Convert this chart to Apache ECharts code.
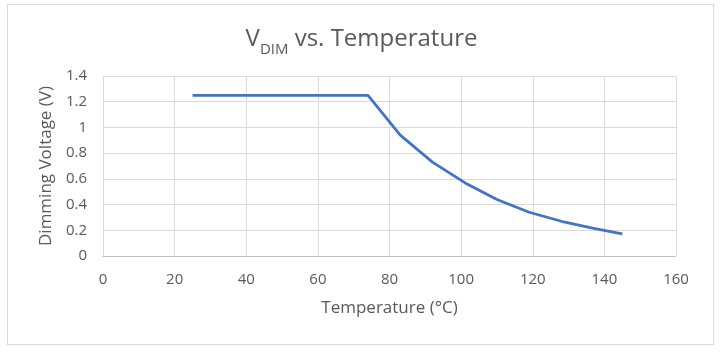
<!DOCTYPE html>
<html>
<head>
<meta charset="utf-8">
<script src="https://cdn.jsdelivr.net/npm/echarts@6/dist/echarts.min.js"></script>
<style>
html,body{margin:0;padding:0;background:#fff;}
#frame{position:absolute;left:7px;top:4px;width:707px;height:341px;border:1px solid #d9d9d9;box-sizing:border-box;}
#chart{width:723px;height:355px;}
</style>
</head>
<body>
<div id="frame"></div>
<div id="chart"></div>
<script>
const temperatures = [25, 74, 83, 92, 101, 110, 119, 128, 137, 145];
const dimVoltage = [1.25, 1.25, 0.94, 0.73, 0.57, 0.44, 0.34, 0.27, 0.215, 0.172];
const xTicks = {min: 0, max: 160, step: 20};
const yTicks = {min: 0, max: 1.4, step: 0.2};

const FONT = '"Open Sans", "Liberation Sans", sans-serif';
const chart = echarts.init(document.getElementById('chart'), null, {renderer: 'canvas'});
chart.setOption({
  animation: false,
  backgroundColor: 'transparent',
  title: {
    text: '{v|V}{sub|DIM}{v| vs. Temperature}',
    left: 'center',
    top: 17,
    textStyle: {
      fontWeight: 'normal',
      rich: {
        v: {fontFamily: FONT, fontSize: 24, fontWeight: 'normal', color: '#595959', verticalAlign: 'bottom', lineHeight: 29},
        sub: {fontFamily: FONT, fontSize: 15, fontWeight: 'normal', color: '#595959', verticalAlign: 'bottom', lineHeight: 20, padding: [0, 0, -6, 0]}
      }
    }
  },
  grid: {left: 103, right: 47, top: 76, bottom: 99},
  xAxis: {
    type: 'value',
    min: xTicks.min, max: xTicks.max, interval: xTicks.step,
    name: 'Temperature (°C)',
    nameLocation: 'middle',
    nameGap: 44,
    nameTextStyle: {fontFamily: FONT, fontSize: 17, color: '#595959'},
    axisLine: {show: true, lineStyle: {color: '#bfbfbf', width: 1}},
    axisTick: {show: false},
    axisLabel: {fontFamily: FONT, fontSize: 15, color: '#595959', margin: 16},
    splitLine: {show: true, lineStyle: {color: '#d9d9d9', width: 1}}
  },
  yAxis: {
    type: 'value',
    min: yTicks.min, max: yTicks.max, interval: yTicks.step,
    name: 'Dimming Voltage (V)',
    nameLocation: 'middle',
    nameGap: 48,
    nameTextStyle: {fontFamily: FONT, fontSize: 17, color: '#595959'},
    axisLine: {show: false},
    axisTick: {show: false},
    axisLabel: {fontFamily: FONT, fontSize: 15, color: '#595959', margin: 16,
      formatter: v => String(Math.round(v * 10) / 10)},
    splitLine: {show: true, lineStyle: {color: '#d9d9d9', width: 1}}
  },
  series: [{
    type: 'line',
    data: temperatures.map((t, i) => [t, dimVoltage[i]]),
    showSymbol: false,
    lineStyle: {color: '#4472c4', width: 2.75},
    itemStyle: {color: '#4472c4'}
  }]
});
</script>
</body>
</html>
